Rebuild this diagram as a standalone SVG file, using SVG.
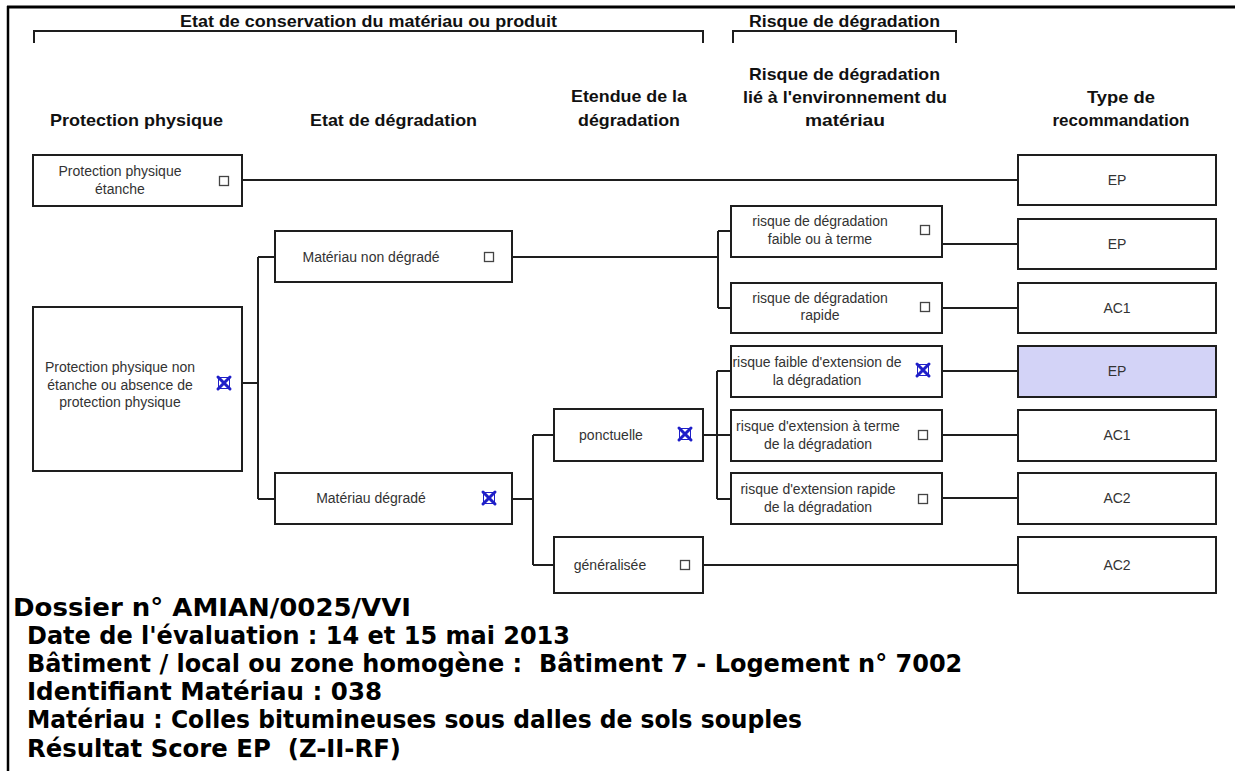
<svg xmlns="http://www.w3.org/2000/svg" width="1235" height="771" viewBox="0 0 1235 771">
<style>
.bx{fill:#fff;stroke:#1e1e1e;stroke-width:2}
.hl{fill:#d3d3f7;stroke:#1e1e1e;stroke-width:2}
.t{font-family:"Liberation Sans",Arial,sans-serif;font-size:14px;fill:#333;text-anchor:middle}
.h{font-family:"Liberation Sans",Arial,sans-serif;font-size:17px;font-weight:bold;fill:#111;text-anchor:middle}
.ti{font-family:"Liberation Sans",Arial,sans-serif;font-size:16px;font-weight:bold;fill:#111;text-anchor:middle}
.f{font-family:"DejaVu Sans",Verdana,sans-serif;font-size:24px;font-weight:bold;fill:#000}
.cb{fill:#fff;stroke:#444;stroke-width:1.3}
.cn{fill:none;stroke:#1e1e1e;stroke-width:2}
.x{stroke:#1f1fc8;stroke-width:3;stroke-linecap:round}
.xb{fill:none;stroke:#1f1fc8;stroke-width:1}
</style>
<defs>
<g id="chk"><rect class="cb" x="-4.5" y="-4.5" width="9" height="9"/></g>
<g id="xk"><rect class="xb" x="-5.5" y="-5.5" width="11" height="11"/><line class="x" x1="-6" y1="-6" x2="6" y2="6"/><line class="x" x1="6" y1="-6" x2="-6" y2="6"/></g>
</defs>
<rect x="0" y="0" width="1235" height="771" fill="#fff"/>
<g id="frame">
<line x1="7" y1="7" x2="1235" y2="7" stroke="#000" stroke-width="3"/>
<line x1="8" y1="6" x2="8" y2="771" stroke="#000" stroke-width="2.5"/>
</g>
<g id="headers">
<text class="ti" x="368.5" y="27" textLength="377" lengthAdjust="spacingAndGlyphs">Etat de conservation du matériau ou produit</text>
<path class="cn" d="M34,43 V31 H703 V43"/>
<text class="ti" x="844.5" y="27" textLength="191" lengthAdjust="spacingAndGlyphs">Risque de dégradation</text>
<path class="cn" d="M733,43 V31 H956 V43"/>
<text class="h" x="136.5" y="126" textLength="173" lengthAdjust="spacingAndGlyphs">Protection physique</text>
<text class="h" x="393.5" y="126" textLength="167" lengthAdjust="spacingAndGlyphs">Etat de dégradation</text>
<text class="h" x="629" y="102" textLength="116" lengthAdjust="spacingAndGlyphs">Etendue de la</text>
<text class="h" x="629" y="126" textLength="102" lengthAdjust="spacingAndGlyphs">dégradation</text>
<text class="h" x="844.5" y="80" textLength="191" lengthAdjust="spacingAndGlyphs">Risque de dégradation</text>
<text class="h" x="845" y="103" textLength="204" lengthAdjust="spacingAndGlyphs">lié à l'environnement du</text>
<text class="h" x="845" y="126" textLength="80" lengthAdjust="spacingAndGlyphs">matériau</text>
<text class="h" x="1121" y="103" textLength="68" lengthAdjust="spacingAndGlyphs">Type de</text>
<text class="h" x="1121" y="126" textLength="137" lengthAdjust="spacingAndGlyphs">recommandation</text>
</g>
<g id="connectors">
<path class="cn" d="M242,180 H1018"/>
<path class="cn" d="M242,383 H258 M258,257 V499 M258,257 H275 M258,499 H275"/>
<path class="cn" d="M512,257 H718 M718,231 V308 M718,231 H731 M718,308 H731"/>
<path class="cn" d="M942,244 H1018 M942,308 H1018 M942,371 H1018 M942,435 H1018 M942,498 H1018"/>
<path class="cn" d="M512,499 H533 M533,435 V565 M533,435 H554 M533,565 H554"/>
<path class="cn" d="M703,435 H717 M717,371 V499 M717,371 H731 M717,435 H731 M717,499 H731"/>
<path class="cn" d="M703,565 H1018"/>
</g>
<g id="n-pp-etanche">
<rect class="bx" x="33" y="155" width="209" height="51"/>
<text class="t" x="120" y="176">Protection physique</text>
<text class="t" x="120" y="194">étanche</text>
<use href="#chk" x="224" y="181"/>
</g>
<g id="n-pp-non-etanche">
<rect class="bx" x="33" y="307" width="209" height="164"/>
<text class="t" x="120" y="372">Protection physique non</text>
<text class="t" x="120" y="390">étanche ou absence de</text>
<text class="t" x="120" y="407">protection physique</text>
<use href="#xk" x="224" y="383"/>
</g>
<g id="n-non-degrade">
<rect class="bx" x="275" y="231" width="237" height="51"/>
<text class="t" x="371" y="262">Matériau non dégradé</text>
<use href="#chk" x="489" y="257"/>
</g>
<g id="n-degrade">
<rect class="bx" x="275" y="473" width="237" height="51"/>
<text class="t" x="371" y="503">Matériau dégradé</text>
<use href="#xk" x="489" y="498"/>
</g>
<g id="n-ponctuelle">
<rect class="bx" x="554" y="409" width="149" height="52"/>
<text class="t" x="611" y="440">ponctuelle</text>
<use href="#xk" x="685" y="434"/>
</g>
<g id="n-generalisee">
<rect class="bx" x="554" y="537" width="149" height="56"/>
<text class="t" x="610" y="570">généralisée</text>
<use href="#chk" x="685" y="565"/>
</g>
<g id="n-r1">
<rect class="bx" x="731" y="206" width="211" height="51"/>
<text class="t" x="820" y="226">risque de dégradation</text>
<text class="t" x="820" y="244">faible ou à terme</text>
<use href="#chk" x="925" y="230"/>
</g>
<g id="n-r2">
<rect class="bx" x="731" y="283" width="211" height="50"/>
<text class="t" x="820" y="303">risque de dégradation</text>
<text class="t" x="820" y="320">rapide</text>
<use href="#chk" x="925" y="307"/>
</g>
<g id="n-r3">
<rect class="bx" x="731" y="346" width="211" height="51"/>
<text class="t" x="817" y="367">risque faible d'extension de</text>
<text class="t" x="817" y="385">la dégradation</text>
<use href="#xk" x="923" y="370"/>
</g>
<g id="n-r4">
<rect class="bx" x="731" y="410" width="211" height="51"/>
<text class="t" x="818" y="431">risque d'extension à terme</text>
<text class="t" x="818" y="449">de la dégradation</text>
<use href="#chk" x="923" y="435"/>
</g>
<g id="n-r5">
<rect class="bx" x="731" y="473" width="211" height="51"/>
<text class="t" x="818" y="494">risque d'extension rapide</text>
<text class="t" x="818" y="512">de la dégradation</text>
<use href="#chk" x="923" y="499"/>
</g>
<g id="n-t1"><rect class="bx" x="1018" y="155" width="198" height="50"/><text class="t" x="1117" y="185">EP</text></g>
<g id="n-t2"><rect class="bx" x="1018" y="219" width="198" height="50"/><text class="t" x="1117" y="249">EP</text></g>
<g id="n-t3"><rect class="bx" x="1018" y="283" width="198" height="50"/><text class="t" x="1117" y="313">AC1</text></g>
<g id="n-t4"><rect class="hl" x="1018" y="346" width="198" height="51"/><text class="t" x="1117" y="376">EP</text></g>
<g id="n-t5"><rect class="bx" x="1018" y="410" width="198" height="51"/><text class="t" x="1117" y="440">AC1</text></g>
<g id="n-t6"><rect class="bx" x="1018" y="473" width="198" height="51"/><text class="t" x="1117" y="503">AC2</text></g>
<g id="n-t7"><rect class="bx" x="1018" y="537" width="198" height="56"/><text class="t" x="1117" y="570">AC2</text></g>
<g id="footer">
<text class="f" x="13" y="616" textLength="398" lengthAdjust="spacingAndGlyphs">Dossier n° AMIAN/0025/VVI</text>
<text class="f" x="27" y="644">Date de l'évaluation : 14 et 15 mai 2013</text>
<text class="f" x="27" y="672">Bâtiment / local ou zone homogène :&#160; Bâtiment 7 - Logement n° 7002</text>
<text class="f" x="27" y="700" textLength="355" lengthAdjust="spacingAndGlyphs">Identifiant Matériau : 038</text>
<text class="f" x="27" y="728" textLength="775" lengthAdjust="spacingAndGlyphs">Matériau : Colles bitumineuses sous dalles de sols souples</text>
<text class="f" x="27" y="757" textLength="374" lengthAdjust="spacingAndGlyphs">Résultat Score EP&#160; (Z-II-RF)</text>
</g>
</svg>
